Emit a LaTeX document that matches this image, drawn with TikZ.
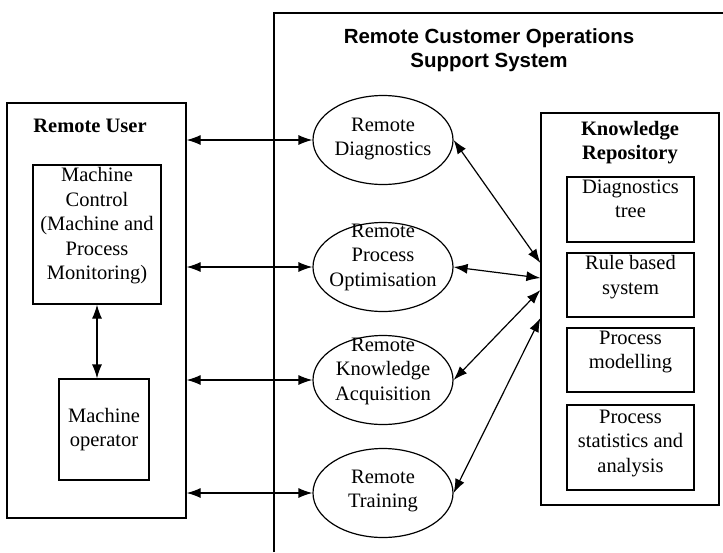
\documentclass[tikz,border=0pt]{standalone}
\usepackage{fontspec}
\setmainfont{Liberation Serif}
\setsansfont{Liberation Sans}
\usepackage{tikz}
\usetikzlibrary{arrows.meta, positioning, shapes.geometric}
\newcommand\dgsize{\fontsize{20.5}{24.5}\selectfont}
\tikzset{>/.tip={Latex[length=14pt,width=10pt]}}
\tikzset{box/.style={draw, line width=1.2pt, inner sep=0pt}}
\tikzset{proc/.style={ellipse, draw, line width=1.2pt, inner sep=0pt, minimum width=140pt, minimum height=89pt}}
\tikzset{txt/.style={align=center, inner sep=0pt}}
\tikzset{link/.style={<->, line width=1.2pt}}

\begin{document}
\begin{tikzpicture}[x=1pt, y=-1pt, font=\dgsize]
\useasboundingbox (0,0) rectangle (723,552);
\draw[line width=1.2pt] (274,552) |- (723,13);
\node[txt, anchor=north, font=\dgsize\sffamily\bfseries] (title) at (489,28) {Remote Customer Operations\\Support System};

\node[box, minimum width=179pt, minimum height=415pt] (user) at (96.5,310.5) {};
\node[txt, anchor=base, font=\dgsize\bfseries] (user-t) at (90,132) {Remote User};
\node[box, minimum width=128pt, minimum height=139pt] (ctrl) at (97,234.5) {};
\node[txt, anchor=north, below=3pt of ctrl.north] (ctrl-t) {Machine\\Control\\(Machine and\\Process\\Monitoring)};
\node[box, minimum width=90pt, minimum height=101pt] (oper) at (104,429.5) {};
\node[txt] (oper-t) at (oper) {Machine\\operator};

\node[proc] (diag) at (383,140) {};
\node[txt] (diag-t) at (383,139) {Remote\\Diagnostics};
\node[proc] (opt) at (383,267) {};
\node[txt] (opt-t) at (383,257) {Remote\\Process\\Optimisation};
\node[proc] (acq) at (383,380) {};
\node[txt] (acq-t) at (383,371) {Remote\\Knowledge\\Acquisition};
\node[proc] (train) at (383,493) {};
\node[txt] (train-t) at (383,491) {Remote\\Training};

\node[box, minimum width=178pt, minimum height=392pt] (repo) at (630,309) {};
\node[txt, anchor=north, font=\dgsize\bfseries] (repo-t) at (630,121) {Knowledge\\Repository};
\node[box, minimum width=127pt, minimum height=65pt] (tree) at (630.5,209.5) {};
\node[txt, below=3pt of tree.north] (tree-t) {Diagnostics\\tree};
\node[box, minimum width=127pt, minimum height=64pt] (rule) at (630.5,285) {};
\node[txt, below=3pt of rule.north] (rule-t) {Rule based\\system};
\node[box, minimum width=127pt, minimum height=64pt] (model) at (630.5,360) {};
\node[txt, below=3pt of model.north] (model-t) {Process\\modelling};
\node[box, minimum width=127pt, minimum height=85pt] (stats) at (630.5,447.5) {};
\node[txt, below=5pt of stats.north] (stats-t) {Process\\statistics and\\analysis};

\draw[link] (ctrl.south) -- (ctrl.south |- oper.north);
\draw[link] (user.east |- diag) -- (diag.west);
\draw[link] (user.east |- opt) -- (opt.west);
\draw[link] (user.east |- acq) -- (acq.west);
\draw[link] (user.east |- train) -- (train.west);

\draw[link] (diag.east) -- ([yshift=46pt]repo.west);
\draw[link] (opt.east) -- ([yshift=31pt]repo.west);
\draw[link] (acq.east) -- ([yshift=19pt]repo.west);
\draw[link] (train.east) -- ([yshift=-9pt]repo.west);
\end{tikzpicture}
\end{document}
